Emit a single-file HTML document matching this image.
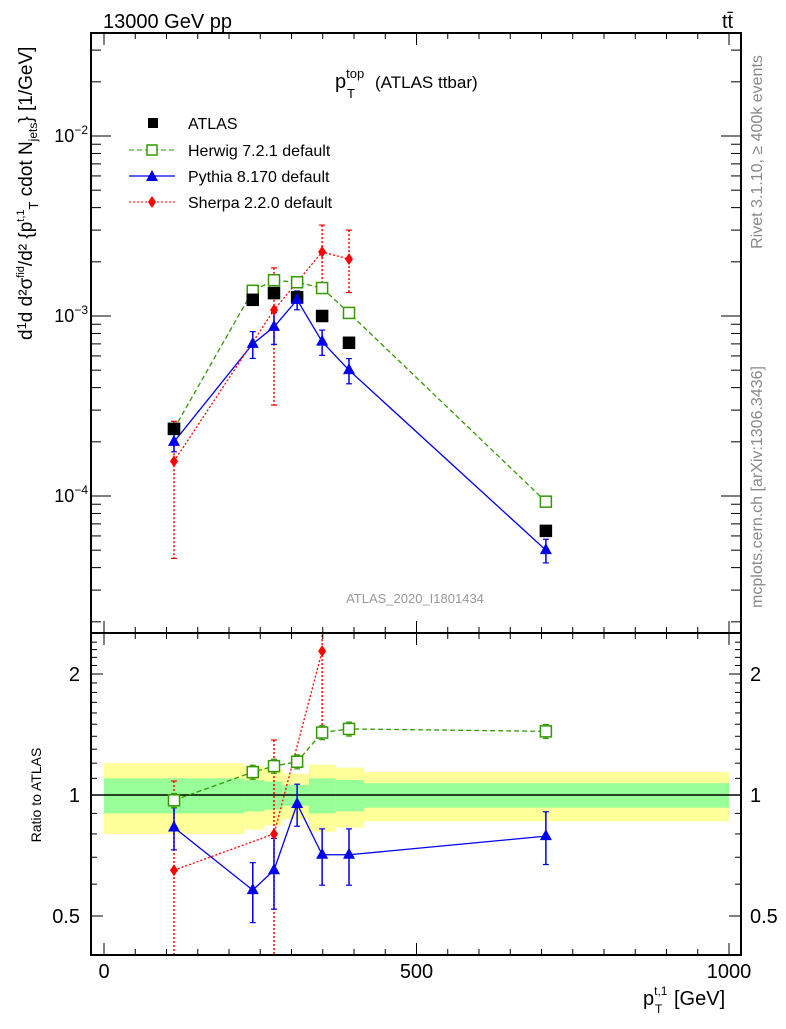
<!DOCTYPE html>
<html><head><meta charset="utf-8"><style>
body{margin:0;background:#fff;}
svg text{font-family:"Liberation Sans",sans-serif;}
</style></head><body>
<svg id="c" width="786" height="1024" xmlns="http://www.w3.org/2000/svg">
<g id="bands"></g>
<g id="marks"></g>
<g id="axes" stroke="#000" fill="none"></g>
<text x="103" y="28" font-size="20">13000 GeV pp</text>
<text x="722" y="28" font-size="20">tt̄</text>
<text x="335" y="88" font-size="20">p<tspan font-size="13" dy="-10">top</tspan><tspan font-size="13" x="347" dy="20">T</tspan><tspan font-size="17" x="375" dy="-10">(ATLAS ttbar)</tspan></text>
<text x="415" y="603" font-size="13" fill="#999" text-anchor="middle">ATLAS_2020_I1801434</text>
<text transform="translate(762,152) rotate(-90)" font-size="16" fill="#888" text-anchor="middle">Rivet 3.1.10, ≥ 400k events</text>
<text transform="translate(762,487) rotate(-90)" font-size="16" fill="#888" text-anchor="middle">mcplots.cern.ch [arXiv:1306.3436]</text>
<text transform="translate(32,340) rotate(-90)" font-size="19">d<tspan font-size="13" dy="-6">1</tspan><tspan dy="6">d</tspan> d²σ<tspan font-size="11" dy="-8">fid</tspan><tspan dy="8">/d² {p</tspan><tspan font-size="11" dy="-8">t,1</tspan><tspan font-size="13" dy="14">T</tspan><tspan dy="-6"> cdot N</tspan><tspan font-size="12" dy="5">jets</tspan><tspan dy="-5">} [1/GeV]</tspan></text>
<text transform="translate(41,795) rotate(-90)" font-size="14" text-anchor="middle">Ratio to ATLAS</text>
<text x="643" y="1005" font-size="20">p<tspan font-size="12" dy="-10">t,1</tspan><tspan font-size="12" x="655" dy="18">T</tspan><tspan x="674" dy="-8">[GeV]</tspan></text>
<g font-size="16">
<rect x="148" y="118" width="10" height="10" fill="#000"/>
<text x="188" y="129">ATLAS</text>
<line x1="129" y1="150" x2="175" y2="150" stroke="#339900" stroke-dasharray="5,3"/>
<rect x="147" y="145" width="10" height="10" fill="#fff" stroke="#339900" stroke-width="1.5"/>
<text x="188" y="156">Herwig 7.2.1 default</text>
<line x1="129" y1="176" x2="175" y2="176" stroke="#0000ee" stroke-width="1.3"/>
<path d="M152,170 L158,181 L146,181Z" fill="#0000ee"/>
<text x="188" y="182">Pythia 8.170 default</text>
<line x1="129" y1="202" x2="175" y2="202" stroke="#ff0000" stroke-dasharray="2,2"/>
<path d="M152,196 L156,202 L152,208 L148,202Z" fill="#ff0000"/>
<text x="188" y="208">Sherpa 2.2.0 default</text>
</g>
</svg>
<script>
const xs = [112, 238, 272, 309, 349, 392, 707];
const binEdges = [0, 225, 257, 286, 328, 371, 416, 1000];
const atlas = [2.36e-4, 1.23e-3, 1.34e-3, 1.27e-3, 1.0e-3, 7.1e-4, 6.4e-5];
const herwig = [2.36e-4, 1.38e-3, 1.58e-3, 1.54e-3, 1.43e-3, 1.04e-3, 9.3e-5];
const pythia = [2.0e-4, 7.0e-4, 8.7e-4, 1.23e-3, 7.2e-4, 5.0e-4, 5.0e-5];
const pythiaErr = [0.12, 0.17, 0.2, 0.12, 0.16, 0.16, 0.15];
const sherpaX = [112, 272, 349, 392];
const sherpa = [1.56e-4, 1.08e-3, 2.27e-3, 2.07e-3];
const sherpaLo = [4.5e-5, 3.2e-4, 1.45e-3, 1.35e-3];
const sherpaHi = [2.6e-4, 1.85e-3, 3.2e-3, 3.0e-3];
const ratioHerwig = [0.97, 1.14, 1.18, 1.21, 1.43, 1.46, 1.44];
const ratioPythia = [0.83, 0.58, 0.65, 0.95, 0.71, 0.71, 0.79];
const ratioSherpaX = [112, 272, 349];
const ratioSherpa = [0.65, 0.80, 2.28];
const bandYellow = [0.20, 0.18, 0.16, 0.13, 0.19, 0.17, 0.14];
const bandGreen = [0.10, 0.09, 0.08, 0.06, 0.10, 0.09, 0.07];
const xTicks = [0, 500, 1000];
const ratioTicks = [0.5, 1, 2];

const NS="http://www.w3.org/2000/svg";
const X=v=>104+v*0.625;
const Y=v=>316-(Math.log10(v)+3)*180;
const R=v=>795-Math.log2(v)*121;
function mk(tag,attrs,parent){const e=document.createElementNS(NS,tag);for(const k in attrs)e.setAttribute(k,attrs[k]);parent.appendChild(e);return e;}
const marks=document.getElementById('marks'), bands=document.getElementById('bands'), axes=document.getElementById('axes');

for(let i=0;i<xs.length;i++){
 const x0=X(binEdges[i]), x1=X(binEdges[i+1]);
 let e=mk('rect',{x:x0,y:R(1+bandYellow[i]),width:x1-x0,height:R(1-bandYellow[i])-R(1+bandYellow[i]),fill:'#ffff99'},bands);
 
 
 e=mk('rect',{x:x0,y:R(1+bandGreen[i]),width:x1-x0,height:R(1-bandGreen[i])-R(1+bandGreen[i]),fill:'#99ff99'},bands);
 
 
}
let ln=mk('line',{x1:91,x2:741,y1:R(1),y2:R(1),stroke:'#000','stroke-width':1.5},bands);



function poly(px,py,color,dash,name,parent){const p=mk('polyline',{points:px.map((x,i)=>x+','+py[i]).join(' '),fill:'none',stroke:color,'stroke-width':1.3,'stroke-dasharray':dash||'none'},parent||marks);
 
 }
function err(x,y1,y2,color,dash,parent){const g=parent||marks;const l=mk('line',{x1:x,x2:x,y1:y1,y2:y2,stroke:color,'stroke-width':1.5,'stroke-dasharray':dash||'none'},g);
 
 
 mk('line',{x1:x-3,x2:x+3,y1:y1,y2:y1,stroke:color,'stroke-width':1.2},g);mk('line',{x1:x-3,x2:x+3,y1:y2,y2:y2,stroke:color,'stroke-width':1.2},g);}
function sq(x,y,fill,stroke,name,parent){const r=mk('rect',{x:x-5.5,y:y-5.5,width:11,height:11,fill:fill,stroke:stroke,'stroke-width':1.5},parent||marks);
 
 }
function tri(x,y,name,parent){const t=mk('path',{d:`M${x},${y-7} L${x+6},${y+4} L${x-6},${y+4}Z`,fill:'#0000ee'},parent||marks);
 
 }
function dia(x,y,name,parent){const d=mk('path',{d:`M${x},${y-6} L${x+4},${y} L${x},${y+6} L${x-4},${y}Z`,fill:'#ff0000'},parent||marks);
 
 }

const px=xs.map(X);
poly(px,herwig.map(Y),'#339900','5,3','herwig-line');
poly(px,pythia.map(Y),'#0000ee','','pythia-line');
poly(sherpaX.map(X),sherpa.map(Y),'#ff0000','2,2','sherpa-line');
sherpaX.forEach((x,i)=>err(X(x),Y(sherpaHi[i]),Y(sherpaLo[i]),'#ff0000','2,2'));
pythia.forEach((v,i)=>err(px[i],Y(v*(1+pythiaErr[i])),Y(v*(1-pythiaErr[i])),'#0000ee'));
herwig.forEach((v,i)=>sq(px[i],Y(v),'#fff','#339900','herwig-point'));
atlas.forEach((v,i)=>sq(px[i],Y(v),'#000','#000','atlas-point'));
pythia.forEach((v,i)=>tri(px[i],Y(v),'pythia-point'));
sherpa.forEach((v,i)=>dia(X(sherpaX[i]),Y(v),'sherpa-point'));

const cp=mk('clipPath',{id:'rc'},document.getElementById('c'));mk('rect',{x:91,y:633,width:650,height:322},cp);
const rg=mk('g',{'clip-path':'url(#rc)'},marks);
poly(px,ratioHerwig.map(R),'#339900','5,3','ratio-herwig-line',rg);
poly(px,ratioPythia.map(R),'#0000ee','','ratio-pythia-line',rg);
poly(ratioSherpaX.map(X),ratioSherpa.map(R),'#ff0000','2,2','ratio-sherpa-line',rg);
ratioSherpa.forEach((v,i)=>err(X(ratioSherpaX[i]),R(v*sherpaHi[i]/sherpa[i]),R(Math.max(0.3,v*sherpaLo[i]/sherpa[i])),'#ff0000','2,2',rg));
ratioPythia.forEach((v,i)=>err(px[i],R(v*(1+pythiaErr[i])),R(v*(1-pythiaErr[i])),'#0000ee','',rg));
ratioHerwig.forEach((v,i)=>err(px[i],R(v*1.04),R(v*0.96),'#339900','',rg));
ratioHerwig.forEach((v,i)=>sq(px[i],R(v),'#fff','#339900','ratio-herwig-point',rg));
ratioPythia.forEach((v,i)=>tri(px[i],R(v),'ratio-pythia-point',rg));
ratioSherpa.forEach((v,i)=>dia(X(ratioSherpaX[i]),R(v),'ratio-sherpa-point',rg));

let f=mk('rect',{x:91,y:33,width:650,height:600,'stroke-width':2},axes);


f=mk('rect',{x:91,y:633,width:650,height:322,'stroke-width':2},axes);


for(let v=0;v<=1000;v+=50){const x=X(v),big=v%500===0?1:0,L=big?12:6;
 [[33,1],[633,-1],[633,1],[955,-1]].forEach(([y0,d])=>mk('line',{x1:x,x2:x,y1:y0,y2:y0+d*L},axes));}
for(let d=-5;d<=-2;d++)for(let m=1;m<10;m++){const v=m*Math.pow(10,d),y=Y(v);if(y<33||y>633)continue;const L=m===1?20:10;
 mk('line',{x1:91,x2:91+L,y1:y,y2:y},axes);mk('line',{x1:741,x2:741-L,y1:y,y2:y},axes);}
[-2,-3,-4].forEach(p=>{const t=mk('text',{x:88,y:Y(Math.pow(10,p))+6,'font-size':18,'text-anchor':'end',fill:'#000',stroke:'none'},axes);
 t.textContent='10';
 
 
 const s=mk('tspan',{'font-size':12,dy:-8},t);s.textContent='−'+(-p);});
for(let v=0.4;v<=2.5;v+=0.1){const y=R(v);if(y<633||y>955)continue;const big=[0.5,1,2].some(t=>Math.abs(t-v)<1e-6),L=big?12:6;
 mk('line',{x1:91,x2:91+L,y1:y,y2:y},axes);mk('line',{x1:741,x2:741-L,y1:y,y2:y},axes);}
ratioTicks.forEach(v=>{[[80,'end'],[750,'start']].forEach(([x,a])=>{const t=mk('text',{x:x,y:R(v)+7,'font-size':20,'text-anchor':a,fill:'#000',stroke:'none'},axes);
 t.textContent=String(v);
 
 });});
xTicks.forEach(v=>{const t=mk('text',{x:X(v),y:978,'font-size':20,'text-anchor':'middle',fill:'#000',stroke:'none'},axes);
 t.textContent=String(v);
 
 });
</script>
</body></html>
